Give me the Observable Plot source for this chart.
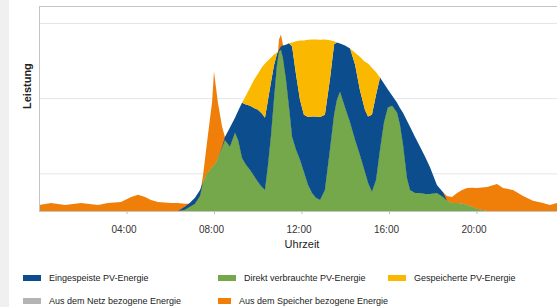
<!DOCTYPE html>
<html><head><meta charset="utf-8">
<script src="https://cdn.jsdelivr.net/npm/d3@7"></script>
<script src="https://cdn.jsdelivr.net/npm/@observablehq/plot@0.6"></script>
<style>
html,body{margin:0;padding:0;overflow:hidden;background:#fff;font-family:Arial,"Liberation Sans",sans-serif;}
#wrap{position:relative;width:557px;height:307px;overflow:hidden;background:#fff;}
#strip{position:absolute;left:0;top:0;width:9px;height:307px;background:#f0f0f0;}
#chart{position:absolute;left:0;top:0;}
#legend{position:absolute;left:23px;top:266px;display:grid;grid-template-columns:195px 170px auto;grid-auto-rows:23px;font-size:9px;color:#222;}
.item{display:flex;align-items:center;white-space:nowrap;}
.sw{display:inline-block;width:18px;height:6px;margin-right:8px;}
</style></head><body>
<div id="wrap"><div id="strip"></div><div id="chart"></div><div id="legend"></div></div>
<script>
// time of day in hours
const hours = [0,0.55,1.19,1.92,2.70,3.15,3.75,4.21,4.53,4.85,
  5.12,5.44,6.03,6.35,6.67,6.90,7.13,7.36,7.50,7.68,
  7.82,7.91,8.00,8.09,8.18,8.37,8.50,8.73,8.96,9.10,
  9.28,9.46,9.65,9.83,10.01,10.19,10.33,10.47,10.61,10.74,
  10.88,10.97,11.06,11.15,11.29,11.43,11.57,11.75,11.93,12.11,
  12.30,12.48,12.66,12.85,13.07,13.30,13.49,13.62,13.76,13.99,
  14.22,14.45,14.67,14.90,15.04,15.22,15.41,15.59,15.77,15.95,
  16.14,16.37,16.50,16.64,16.82,16.96,17.19,17.42,17.65,17.87,
  18.19,18.47,18.65,18.88,19.11,19.34,19.57,19.79,20.02,20.48,
  20.94,21.21,21.67,22.13,22.58,23.04,23.36,23.68];
// Direkt verbrauchte PV-Energie (kW)
const direkt = [0,0,0,0,0,0,0,0,0,0,
  0,0,0,0,0.03,0.11,0.19,0.40,0.77,0.99,
  1.09,1.17,1.20,1.28,1.41,1.68,1.89,1.71,2.08,1.89,
  1.41,1.23,1.09,0.93,0.77,0.64,0.56,1.23,2.03,2.96,
  3.89,4.24,4.29,4.08,3.49,2.75,1.97,1.63,1.36,1.04,
  0.69,0.48,0.35,0.29,0.56,1.63,2.56,2.96,3.17,2.75,
  2.35,1.89,1.49,1.04,0.75,0.51,0.83,1.63,2.35,2.75,
  2.80,2.61,2.29,1.76,0.88,0.56,0.48,0.48,0.45,0.45,
  0.48,0.37,0.27,0.21,0.21,0.19,0.16,0.11,0.05,0,
  0,0,0,0,0,0,0,0];
// Eingespeiste PV-Energie (kW)
const eingespeist = [0,0,0,0,0,0,0,0,0,0,
  0,0,0,0,0.08,0.11,0.16,0.16,0,0,
  0,0,0,0,0,0.03,0.08,0.51,0.40,0.77,
  1.47,1.60,1.71,1.81,1.92,1.95,1.92,1.73,1.41,0.91,
  0.29,0.05,0.08,0.32,0.93,1.71,2.40,2.00,1.60,1.52,
  1.81,2.03,2.16,2.21,2.00,1.87,1.87,1.52,1.28,1.65,
  1.97,2.00,1.73,1.65,1.76,2.05,2.27,1.92,1.04,0.48,
  0.27,0.27,0.45,0.85,1.52,1.68,1.49,1.23,0.99,0.72,
  0.21,0.13,0,0,0,0,0,0,0,0,
  0,0,0,0,0,0,0,0];
// Gespeicherte PV-Energie (kW)
const gespeichert = [0,0,0,0,0,0,0,0,0,0,
  0,0,0,0,0,0,0,0,0,0,
  0,0,0,0,0,0,0,0,0,0,
  0,0.24,0.48,0.75,0.96,1.23,1.44,1.04,0.64,0.29,
  0.03,0,0,0,0,0,0.11,0.88,1.57,1.97,
  2.05,2.05,2.05,2.05,2.00,1.04,0.08,0,0,0,
  0,0.32,0.88,1.28,1.41,1.25,0.59,0,0,0,
  0,0,0,0,0,0,0,0,0,0,
  0,0,0,0,0,0,0,0,0,0,
  0,0,0,0,0,0,0,0];
// Aus dem Speicher bezogene Energie (kW)
const speicher = [0.16,0.21,0.16,0.21,0.16,0.21,0.24,0.37,0.43,0.37,
  0.29,0.24,0.21,0.21,0.16,0.08,0,0.05,0.19,0.83,
  1.39,1.71,2.51,2.00,1.47,0.56,0.08,0,0,0,
  0,0,0,0,0,0,0,0,0,0,
  0,0.32,0.40,0.35,0,0,0,0,0,0,
  0,0,0,0,0,0,0,0,0,0,
  0,0,0,0,0,0,0,0,0,0,
  0,0,0,0,0,0,0,0,0,0,
  0,0.13,0.13,0.16,0.27,0.37,0.45,0.51,0.56,0.64,
  0.72,0.61,0.56,0.40,0.27,0.21,0.16,0.21];

const seriesNames = ["Eingespeiste PV-Energie","Direkt verbrauchte PV-Energie","Gespeicherte PV-Energie","Aus dem Netz bezogene Energie","Aus dem Speicher bezogene Energie"];
const seriesColors = ["#0c4d8d","#74a84a","#fbb800","#b4b4b4","#f07f0a"];
const xTicks = [4,8,12,16,20];
const xTickLabels = ["04:00","08:00","12:00","16:00","20:00"];
const gridValues = [1,3,5];
const xLabel = "Uhrzeit";
const yLabel = "Leistung";

const [nEin, nDir, nGes, nNetz, nSp] = seriesNames;
const prod = [], cons = [];
hours.forEach((h, i) => {
  prod.push({t: h, s: nDir, v: direkt[i]});
  prod.push({t: h, s: nEin, v: eingespeist[i]});
  prod.push({t: h, s: nGes, v: gespeichert[i]});
  cons.push({t: h, s: nDir, v: direkt[i]});
  cons.push({t: h, s: nSp, v: speicher[i]});
});

const chart = Plot.plot({
  width: 564, height: 256,
  marginLeft: 39, marginRight: 0, marginTop: 6, marginBottom: 45,
  style: {background: "transparent", maxWidth: "none", fontFamily: "Arial, 'Liberation Sans', sans-serif", overflow: "visible"},
  x: {domain: [0, 24], axis: null},
  y: {domain: [0, 5.45], axis: null},
  color: {domain: seriesNames, range: seriesColors},
  marks: [
    Plot.ruleY(gridValues, {stroke: "#e6e6e6", strokeWidth: 1}),
    Plot.areaY(cons, {x: "t", y: "v", z: "s", fill: "s", order: [nDir, nSp]}),
    Plot.areaY(prod, {x: "t", y: "v", z: "s", fill: "s", order: [nDir, nEin, nGes]}),
    Plot.frame({stroke: "#c4c4c4"}),
    Plot.axisX({ticks: xTicks, tickFormat: () => "", tickSize: 3, stroke: "#bbb", label: null}),
    Plot.axisX({ticks: xTicks, tickFormat: d => xTickLabels[xTicks.indexOf(d)], tickSize: 0, tickPadding: 14, dx: -3, fontSize: 10, fill: "#333", label: null}),
    Plot.text([xLabel], {frameAnchor: "bottom", dy: 36, fontSize: 11, fill: "#222"}),
    Plot.text([yLabel], {frameAnchor: "left", rotate: -90, dx: -12, fontSize: 11, fontWeight: "bold", fill: "#222"})
  ]
});
document.getElementById("chart").appendChild(chart);

const leg = document.getElementById("legend");
seriesNames.forEach((n, i) => {
  const d = document.createElement("div");
  d.className = "item";
  const s = document.createElement("span");
  s.className = "sw";
  s.style.background = seriesColors[i];
  d.appendChild(s);
  d.appendChild(document.createTextNode(n));
  leg.appendChild(d);
});
</script>
</body></html>
